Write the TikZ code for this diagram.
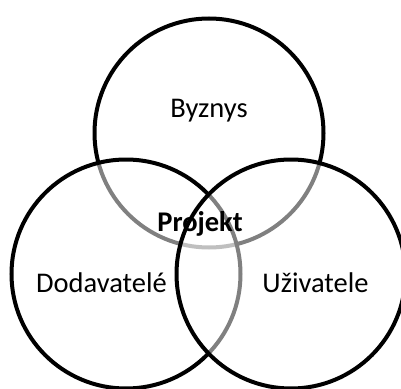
\documentclass[tikz,border=0pt]{standalone}
\usepackage{fontspec}
\setmainfont{Carlito}
\begin{document}
\begin{tikzpicture}[x=1pt,y=-1pt,
  ring/.style={line width=4pt, draw=black},
  veil/.style={fill=white, fill opacity=0.5},
  vtext/.style={font=\fontsize{28.5}{32}\selectfont, anchor=base, inner sep=0pt}]
\useasboundingbox (0,0) rectangle (401,388);
\begin{scope}
  \clip (0,0) rectangle (401,388);
  % three overlapping sets; each half-transparent white fill dims what lies beneath
  \path[veil, ring] (209,133) circle[radius=114.5];
  \path[veil, ring] (126,274) circle[radius=114.5];
  \path[veil] (291,274) circle[radius=114.5];
  \node[vtext] (byz) at (209,117) {Byznys};
  \node[vtext] (dod) at (101.5,292) {Dodavatelé};
  \node[vtext] (uzi) at (315.5,292) {Uživatele};
  \node[vtext, font=\fontsize{28.5}{32}\selectfont\bfseries] (proj) at (200,231) {Projekt};
  \draw[ring] (291,274) circle[radius=114.5];
\end{scope}
\end{tikzpicture}
\end{document}
